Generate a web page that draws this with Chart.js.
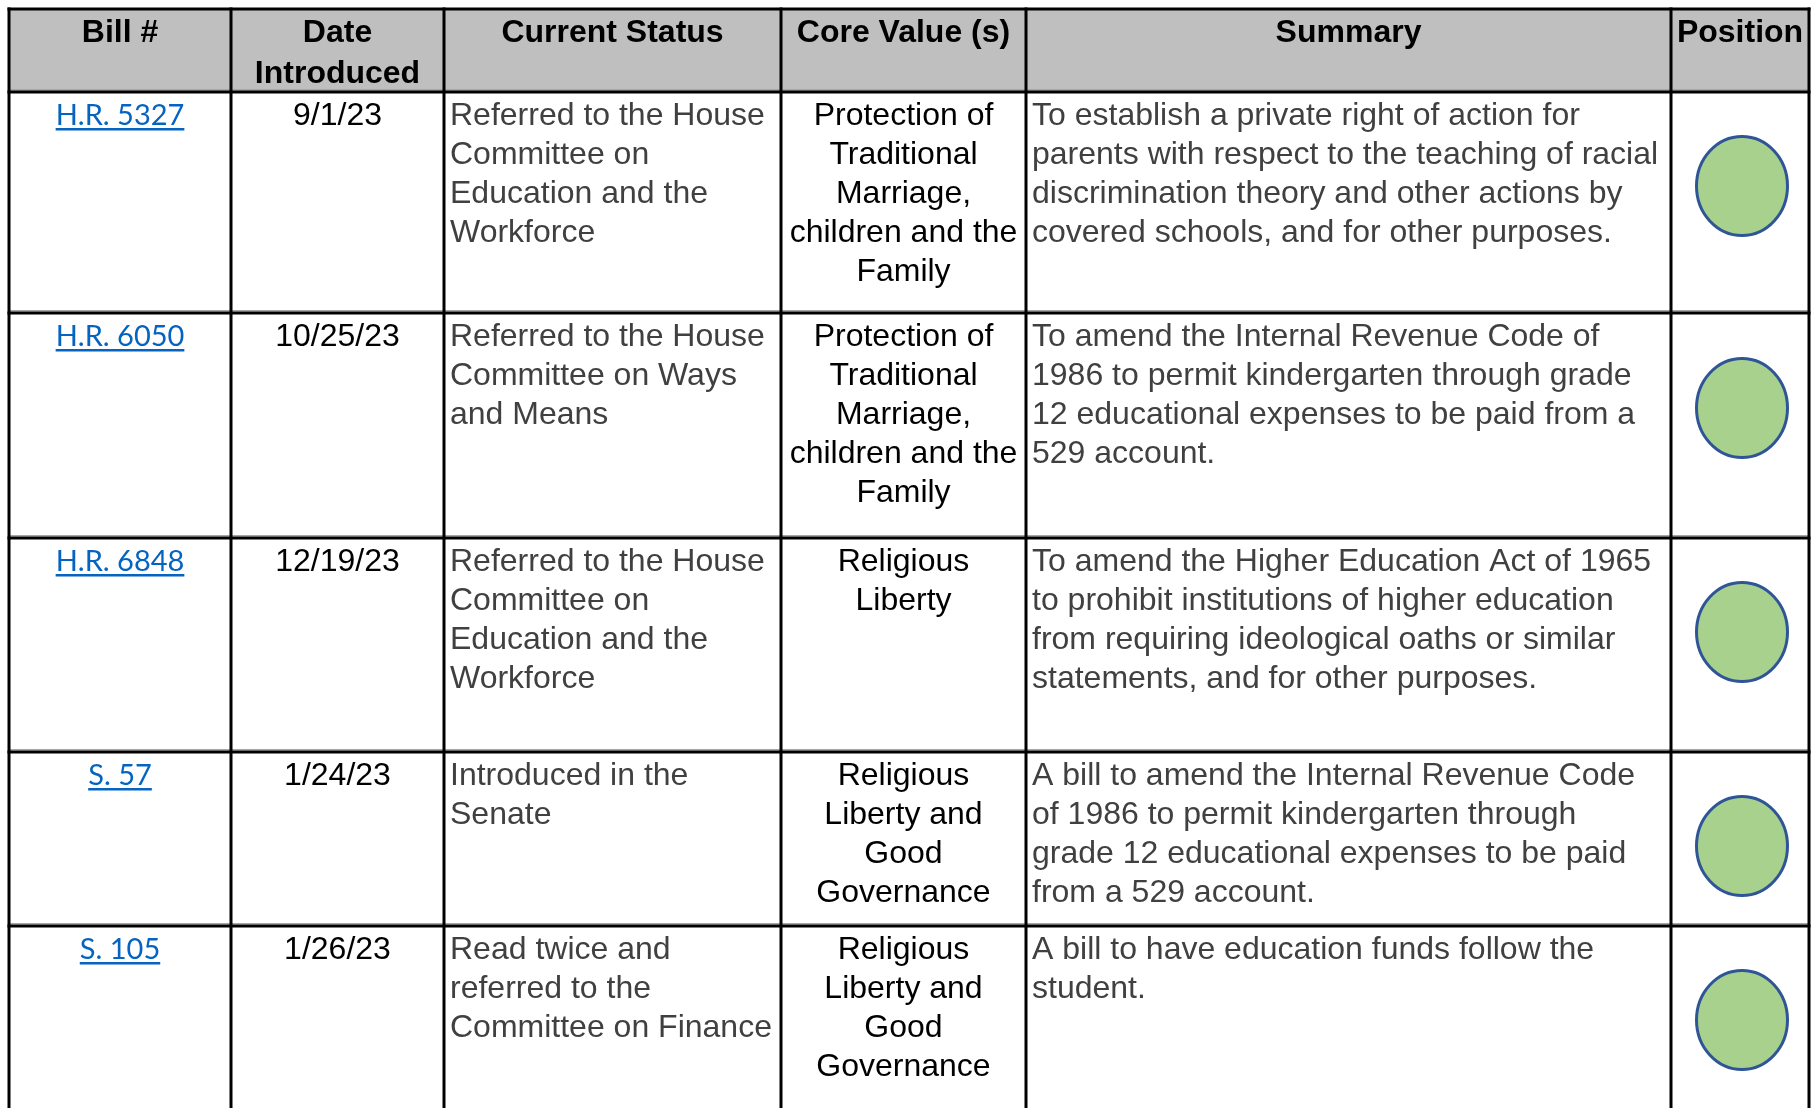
<!DOCTYPE html>
<html>
<head>
<meta charset="utf-8">
<script src="https://cdn.jsdelivr.net/npm/chart.js@4.4.1/dist/chart.umd.min.js"></script>
<style>
  html, body { margin: 0; padding: 0; background: #ffffff; }
  #wrap { width: 1818px; height: 1108px; }
</style>
</head>
<body>
<div id="wrap"><canvas id="c" width="1818" height="1108"></canvas></div>
<script>
// ---------- DATA ----------
const headers = ["Bill #", "Date\nIntroduced", "Current Status", "Core Value (s)", "Summary", "Position"];
const bills = ["H.R. 5327", "H.R. 6050", "H.R. 6848", "S. 57", "S. 105"];
const dates = ["9/1/23", "10/25/23", "12/19/23", "1/24/23", "1/26/23"];
const statuses = [
  "Referred to the House\nCommittee on\nEducation and the\nWorkforce",
  "Referred to the House\nCommittee on Ways\nand Means",
  "Referred to the House\nCommittee on\nEducation and the\nWorkforce",
  "Introduced in the\nSenate",
  "Read twice and\nreferred to the\nCommittee on Finance"
];
const coreValues = [
  "Protection of\nTraditional\nMarriage,\nchildren and the\nFamily",
  "Protection of\nTraditional\nMarriage,\nchildren and the\nFamily",
  "Religious\nLiberty",
  "Religious\nLiberty and\nGood\nGovernance",
  "Religious\nLiberty and\nGood\nGovernance"
];
const summaries = [
  "To establish a private right of action for\nparents with respect to the teaching of racial\ndiscrimination theory and other actions by\ncovered schools, and for other purposes.",
  "To amend the Internal Revenue Code of\n1986 to permit kindergarten through grade\n12 educational expenses to be paid from a\n529 account.",
  "To amend the Higher Education Act of 1965\nto prohibit institutions of higher education\nfrom requiring ideological oaths or similar\nstatements, and for other purposes.",
  "A bill to amend the Internal Revenue Code\nof 1986 to permit kindergarten through\ngrade 12 educational expenses to be paid\nfrom a 529 account.",
  "A bill to have education funds follow the\nstudent."
];
const positions = ["Support", "Support", "Support", "Support", "Support"];

// ---------- LAYOUT (styles / geometry in table units) ----------
const W = 1818, H = 1108;
const colEdges = [9, 231, 444, 781, 1026, 1671, 1809];
const rowEdges = [9, 92, 313, 538, 752, 926, 1140];
const circleOffset = [94, 95, 94, 94, 94]; // circle centre below row top
const circleShiftX = 2;
const colAlign = ["center", "center", "left", "center", "left", "center"];
const colColor = ["#0563C1", "#000000", "#404040", "#000000", "#404040", "#000000"];
const bodyFont = "32px 'Liberation Sans', Arial, sans-serif";
const headFont = "bold 32px 'Liberation Sans', Arial, sans-serif";
const linkFont = "29px Lato, 'Open Sans', sans-serif";
const lineH = 39;

// ellipse marker for "Support"
function makeMarker() {
  const w = 100, h = 108;
  const cv = document.createElement('canvas');
  cv.width = w; cv.height = h;
  const g = cv.getContext('2d');
  g.beginPath();
  g.ellipse(w / 2, h / 2, 45.5, 49.5, 0, 0, Math.PI * 2);
  g.fillStyle = "#A9D18E";
  g.fill();
  g.lineWidth = 3;
  g.strokeStyle = "#2F5597";
  g.stroke();
  return cv;
}
const marker = makeMarker();

const posCol = 5;
const points = positions.map((p, i) => ({
  x: (colEdges[posCol] + colEdges[posCol + 1]) / 2 + circleShiftX,
  y: rowEdges[i + 1] + circleOffset[i],
  label: p
}));

const tablePlugin = {
  id: 'tablePlugin',
  beforeDatasetsDraw(chart) {
    const ctx = chart.ctx;
    const xs = chart.scales.x, ys = chart.scales.y;
    const X = v => xs.getPixelForValue(v);
    const Y = v => ys.getPixelForValue(v);
    ctx.save();
    // header background
    ctx.fillStyle = "#BFBFBF";
    ctx.fillRect(X(colEdges[0]), Y(rowEdges[0]), X(colEdges[6]) - X(colEdges[0]), Y(rowEdges[1]) - Y(rowEdges[0]));

    // header text
    ctx.fillStyle = "#000";
    ctx.font = headFont;
    ctx.textAlign = "center";
    ctx.textBaseline = "alphabetic";
    headers.forEach((h, c) => {
      const cx = (X(colEdges[c]) + X(colEdges[c + 1])) / 2;
      h.split("\n").forEach((ln, k) => ctx.fillText(ln, cx, Y(rowEdges[0]) + 33 + k * 41));
    });

    // body text
    const cols = [bills, dates, statuses, coreValues, summaries];
    for (let r = 0; r < bills.length; r++) {
      const top = Y(rowEdges[r + 1]);
      for (let c = 0; c < cols.length; c++) {
        const lines = cols[c][r].split("\n");
        ctx.fillStyle = colColor[c];
        ctx.font = c === 0 ? linkFont : bodyFont;
        ctx.textAlign = colAlign[c];
        const x = colAlign[c] === "center" ? (X(colEdges[c]) + X(colEdges[c + 1])) / 2 : X(colEdges[c]) + 6;
        lines.forEach((ln, k) => {
          const by = top + 33 + k * lineH;
          ctx.fillText(ln, x, by);
          if (c === 0) {
            const w = ctx.measureText(ln).width;
            ctx.fillRect(x - w / 2, by + 3, w, 2.5);
          }
        });
      }
    }

    // grid lines
    ctx.fillStyle = "#A6A6A6";
    for (let r = 1; r < rowEdges.length - 1; r++) {
      ctx.fillRect(X(colEdges[0]), Y(rowEdges[r]) - 3, X(colEdges[6]) - X(colEdges[0]), 1.5);
    }
    ctx.fillStyle = "#000";
    for (let r = 0; r < rowEdges.length - 1; r++) {
      ctx.fillRect(X(colEdges[0]) - 1.5, Y(rowEdges[r]) - 1.5, X(colEdges[6]) - X(colEdges[0]) + 3, 3);
    }
    colEdges.forEach(cx => {
      ctx.fillRect(X(cx) - 1.5, Y(rowEdges[0]) - 1.5, 3, H);
    });
    ctx.restore();
  }
};

new Chart(document.getElementById('c'), {
  type: 'scatter',
  data: {
    datasets: [{
      label: 'Position',
      data: points,
      pointStyle: marker,
      pointRadius: 50,
      pointHoverRadius: 50,
      showLine: false,
      clip: false
    }]
  },
  options: {
    responsive: false,
    animation: false,
    events: [],
    layout: { padding: 0, autoPadding: false },
    plugins: { legend: { display: false }, tooltip: { enabled: false } },
    scales: {
      x: { type: 'linear', min: 0, max: W, display: false },
      y: { type: 'linear', min: 0, max: H, reverse: true, display: false }
    }
  },
  plugins: [tablePlugin, {
    id: 'bg',
    beforeDraw(chart) {
      const ctx = chart.ctx;
      ctx.save();
      ctx.fillStyle = "#fff";
      ctx.fillRect(0, 0, chart.width, chart.height);
      ctx.restore();
    }
  }]
});
</script>
</body>
</html>
